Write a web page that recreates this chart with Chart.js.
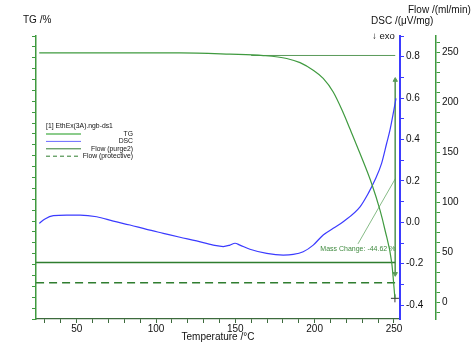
<!DOCTYPE html>
<html>
<head>
<meta charset="utf-8">
<script src="https://cdn.jsdelivr.net/npm/chart.js@4/dist/chart.umd.min.js"></script>
<style>
  body { margin: 0; background: #fff; }
  #wrap { width: 471px; height: 342px; }
</style>
</head>
<body>
<div id="wrap"><canvas id="staChart" width="471" height="342"></canvas></div>
<script>
// TG curve (temperature in °C, mass in %)
var tgTemp  = [26.4, 60, 90, 115.1, 146.6, 167.6, 182.4, 190.8, 199.1, 205.4, 211.7, 218.0, 222.3, 228.6, 235.9, 241.2, 244.3, 248.6, 250.6];
var tgValue = [100.0, 100.0, 100.0, 100.0, 99.76, 99.5, 98.97, 98.2, 96.8, 95.3, 92.8, 89.0, 86.0, 81.5, 76.0, 71.1, 67.5, 61.4, 54.9];

// DSC curve (µV/mg)
var dscTemp  = [26.4, 30.0, 35.3, 43.7, 52.1, 62.6, 73.1, 83.6, 94.1, 104.6, 115.1, 125.6, 136.1, 142.4, 146.6, 149.8, 152.9, 159.2, 169.8, 180.2, 186.5, 192.8, 199.1, 205.4, 211.7, 218.0, 228.6, 233.8, 238.0, 242.2, 245.4, 247.5, 251.3];
var dscValue = [-0.005, 0.016, 0.032, 0.035, 0.035, 0.027, 0.006, -0.013, -0.034, -0.053, -0.072, -0.090, -0.110, -0.117, -0.110, -0.101, -0.110, -0.130, -0.150, -0.158, -0.155, -0.142, -0.110, -0.061, -0.029, 0.003, 0.075, 0.140, 0.204, 0.285, 0.382, 0.446, 0.599];

// gas flows (ml/min)
var flowTemp       = [24.4, 250.8];
var purgeFlow      = [39.5, 39.5];
var protectiveFlow = [19.4, 19.4];

// mass change evaluation (TG %)
var stepTemp   = [160, 250.8];
var stepLevel  = [99.52, 99.52];
var markerTemp = [250.8, 250.8];
var markerTG   = [95.0, 59.4];
var leaderTemp = [227.3, 251.1];
var leaderTG   = [64.9, 77.0];
var massChange = -44.62;

var FONT = 'Arial, "Liberation Sans", sans-serif';
var TG_GREEN = '#3f9a3f';
var FLOW_GREEN = '#2f7d2f';
var DSC_BLUE = '#3b3bff';

function pts(xs, ys) {
  return xs.map(function(x, i) { return {x: x, y: ys[i]}; });
}

function fixSize(prop, size) {
  return function(scale) { scale[prop] = size; };
}

var textPlugin = {
  id: 'staText',
  afterDraw: function(chart) {
    var ctx = chart.ctx;
    var xs = chart.scales.x, tg = chart.scales.tg;
    ctx.save();
    ctx.fillStyle = '#111';
    ctx.textBaseline = 'middle';
    ctx.font = '10px ' + FONT;
    ctx.textAlign = 'left';
    ctx.fillText('TG /%', 23, 20);
    ctx.fillText('DSC /(\u03bcV/mg)', 371, 21);
    ctx.fillText('Flow /(ml/min)', 408, 10);
    ctx.font = '9.5px ' + FONT;
    ctx.fillText('\u2193 exo', 372, 36);
    ctx.font = '10px ' + FONT;
    ctx.textAlign = 'center';
    ctx.fillText('Temperature /\u00b0C', 218, 337);

    // mass change label
    ctx.fillStyle = '#3f8a3f';
    ctx.font = '7px ' + FONT;
    ctx.textAlign = 'right';
    ctx.fillText('Mass Change: ' + massChange.toFixed(2) + ' %', xs.getPixelForValue(250.9), tg.getPixelForValue(63.9));

    // legend box
    var lx = 46, ly = 126;
    ctx.fillStyle = '#111';
    ctx.font = '6.8px ' + FONT;
    ctx.textAlign = 'left';
    ctx.fillText('[1] EthEx(3A).ngb-ds1', lx, ly);
    var entries = [
      {label: 'TG', color: '#8ccc8c', width: 2, dash: []},
      {label: 'DSC', color: '#6a6aff', width: 1, dash: []},
      {label: 'Flow (purge2)', color: FLOW_GREEN, width: 1, dash: []},
      {label: 'Flow (protective)', color: FLOW_GREEN, width: 1, dash: [4, 3]}
    ];
    entries.forEach(function(e, i) {
      var y = ly + 8 + i * 7.4;
      ctx.strokeStyle = e.color;
      ctx.lineWidth = e.width;
      ctx.setLineDash(e.dash);
      ctx.beginPath();
      ctx.moveTo(lx, y);
      ctx.lineTo(lx + 35, y);
      ctx.stroke();
      ctx.setLineDash([]);
      ctx.textAlign = 'right';
      ctx.fillText(e.label, 133, y);
    });
    ctx.restore();
  }
};

var ctx = document.getElementById('staChart').getContext('2d');
var staChart = new Chart(ctx, {
  type: 'scatter',
  data: {
    datasets: [
      {
        label: 'TG',
        data: pts(tgTemp, tgValue),
        yAxisID: 'tg',
        showLine: true,
        borderColor: TG_GREEN,
        borderWidth: 1.2,
        pointRadius: 0,
        cubicInterpolationMode: 'monotone'
      },
      {
        label: 'DSC',
        data: pts(dscTemp, dscValue),
        yAxisID: 'dsc',
        showLine: true,
        borderColor: DSC_BLUE,
        borderWidth: 1.2,
        pointRadius: 0,
        cubicInterpolationMode: 'monotone'
      },
      {
        label: 'Flow (purge2)',
        data: pts(flowTemp, purgeFlow),
        yAxisID: 'flow',
        showLine: true,
        borderColor: FLOW_GREEN,
        borderWidth: 1.5,
        pointRadius: 0
      },
      {
        label: 'Flow (protective)',
        data: pts(flowTemp, protectiveFlow),
        yAxisID: 'flow',
        showLine: true,
        borderColor: FLOW_GREEN,
        borderWidth: 1.5,
        borderDash: [8, 5],
        pointRadius: 0
      },
      {
        label: 'step',
        data: pts(stepTemp, stepLevel),
        yAxisID: 'tg',
        showLine: true,
        borderColor: '#5a9a5a',
        borderWidth: 1,
        pointRadius: 0
      },
      {
        label: 'marker',
        data: pts(markerTemp, markerTG),
        yAxisID: 'tg',
        showLine: true,
        borderColor: '#5a9a5a',
        borderWidth: 1,
        pointStyle: 'triangle',
        pointRadius: 2.5,
        pointRotation: [0, 180],
        pointBackgroundColor: '#5a9a5a',
        pointBorderColor: '#5a9a5a'
      },
      {
        label: 'leader',
        data: pts(leaderTemp, leaderTG),
        yAxisID: 'tg',
        showLine: true,
        borderColor: '#86bb86',
        borderWidth: 1,
        pointRadius: 0
      },
      {
        label: 'end',
        data: pts([tgTemp[tgTemp.length - 1]], [tgValue[tgValue.length - 1]]),
        yAxisID: 'tg',
        pointStyle: 'cross',
        pointRadius: 4,
        borderColor: '#333',
        borderWidth: 1
      }
    ]
  },
  options: {
    responsive: false,
    animation: false,
    devicePixelRatio: 1,
    layout: { padding: { top: 36, left: 0, right: 0, bottom: 0 } },
    plugins: {
      legend: { display: false },
      tooltip: { enabled: false }
    },
    scales: {
      x: {
        type: 'linear',
        position: 'bottom',
        min: 24.35,
        max: 253.8,
        afterFit: fixSize('height', 23),
        border: { display: true, color: '#3d6b3d', width: 1.2 },
        grid: { drawOnChartArea: false, drawTicks: true, tickLength: 4, color: '#3d6b3d' },
        ticks: {
          stepSize: 10,
          includeBounds: false,
          autoSkip: false,
          maxRotation: 0,
          padding: 0,
          color: '#111',
          font: { size: 10, family: FONT },
          callback: function(v) { return v % 50 === 0 ? String(v) : ''; }
        }
      },
      tg: {
        type: 'linear',
        position: 'left',
        min: 51.1,
        max: 103.1,
        afterFit: fixSize('width', 36),
        border: { display: true, color: TG_GREEN, width: 1.5 },
        grid: { drawOnChartArea: false, drawTicks: true, tickLength: 4, color: TG_GREEN },
        ticks: {
          stepSize: 2,
          includeBounds: false,
          autoSkip: false,
          maxTicksLimit: 1000,
          padding: 1,
          color: '#111',
          font: { size: 10, family: FONT },
          callback: function(v) { return v % 10 === 0 ? String(v) : ''; }
        }
      },
      dsc: {
        type: 'linear',
        position: 'right',
        weight: 0,
        min: -0.467,
        max: 0.9,
        afterFit: fixSize('width', 36),
        border: { display: true, color: DSC_BLUE, width: 2 },
        grid: { drawOnChartArea: false, drawTicks: true, tickLength: 4, color: DSC_BLUE },
        ticks: {
          stepSize: 0.1,
          includeBounds: false,
          autoSkip: false,
          maxTicksLimit: 1000,
          padding: 2,
          color: '#111',
          font: { size: 10, family: FONT },
          callback: function(v) {
            var k = v * 5;
            return Math.abs(k - Math.round(k)) < 1e-6 ? v.toFixed(1) : '';
          }
        }
      },
      flow: {
        type: 'linear',
        position: 'right',
        weight: 1,
        min: -17,
        max: 266.5,
        afterFit: fixSize('width', 35),
        border: { display: true, color: TG_GREEN, width: 1.5 },
        grid: { drawOnChartArea: false, drawTicks: true, tickLength: 4, color: TG_GREEN },
        ticks: {
          stepSize: 10,
          includeBounds: false,
          autoSkip: false,
          maxTicksLimit: 1000,
          padding: 2,
          color: '#111',
          font: { size: 10, family: FONT },
          callback: function(v) { return v % 50 === 0 ? String(v) : ''; }
        }
      }
    }
  },
  plugins: [textPlugin]
});
</script>
</body>
</html>
